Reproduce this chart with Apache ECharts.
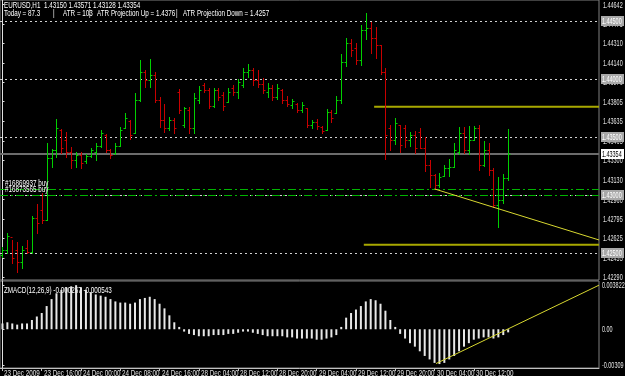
<!DOCTYPE html>
<html><head><meta charset="utf-8">
<script src="https://cdn.jsdelivr.net/npm/echarts@6/dist/echarts.min.js"></script>
<style>html,body{margin:0;padding:0;background:#000;}#c{width:625px;height:376px;}</style>
</head><body><div id="c"></div>
<script>
// ---- data (EURUSD H1) ----
const opens  = [1.42483,1.42526,1.42638,1.42526,1.42423,1.42543,1.42509,1.42802,1.42871,1.42785,1.43319,1.43388,1.43560,1.43474,1.43371,1.43302,1.43345,1.43293,1.43336,1.43371,1.43423,1.43517,1.43388,1.43362,1.43423,1.43578,1.43638,1.43535,1.43819,1.44060,1.43991,1.44035,1.43819,1.43647,1.43578,1.43647,1.43888,1.43604,1.43733,1.43578,1.43819,1.43948,1.43905,1.43767,1.43905,1.43862,1.43802,1.43922,1.43888,1.43948,1.44060,1.44078,1.43991,1.43957,1.43888,1.43922,1.43845,1.43905,1.43819,1.43776,1.43785,1.43733,1.43750,1.43604,1.43629,1.43586,1.43560,1.43716,1.43707,1.43819,1.44147,1.44310,1.44267,1.44164,1.44422,1.44440,1.44353,1.44293,1.44060,1.43578,1.43474,1.43604,1.43578,1.43474,1.43517,1.43543,1.43405,1.43259,1.43173,1.43086,1.43164,1.43233,1.43242,1.43371,1.43535,1.43388,1.43474,1.43578,1.43259,1.43388,1.43216,1.42914,1.42957,1.43150];
const highs  = [1.42552,1.42673,1.42612,1.42595,1.42561,1.42612,1.42819,1.42923,1.43017,1.43448,1.43397,1.43655,1.43569,1.43543,1.43414,1.43371,1.43371,1.43354,1.43405,1.43448,1.43560,1.43526,1.43397,1.43448,1.43586,1.43707,1.43647,1.43879,1.44164,1.44078,1.44172,1.44060,1.43845,1.43785,1.43673,1.43664,1.43914,1.43759,1.43759,1.43879,1.43940,1.43966,1.43922,1.43922,1.43922,1.43888,1.43922,1.43948,1.44000,1.44095,1.44129,1.44095,1.44078,1.44009,1.43966,1.43948,1.43957,1.43914,1.43854,1.43828,1.43793,1.43802,1.43750,1.43647,1.43655,1.43595,1.43741,1.43733,1.43854,1.44216,1.44353,1.44345,1.44310,1.44466,1.44569,1.44491,1.44448,1.44293,1.44095,1.43604,1.43664,1.43604,1.43604,1.43543,1.43552,1.43578,1.43500,1.43302,1.43181,1.43190,1.43259,1.43310,1.43448,1.43586,1.43586,1.43595,1.43595,1.43604,1.43466,1.43448,1.43233,1.43155,1.43181,1.43571];
const lows   = [1.42466,1.42500,1.42414,1.42336,1.42371,1.42500,1.42500,1.42673,1.42759,1.42785,1.43242,1.43328,1.43362,1.43328,1.43233,1.43242,1.43233,1.43276,1.43328,1.43302,1.43414,1.43371,1.43319,1.43354,1.43423,1.43578,1.43483,1.43535,1.43810,1.43931,1.43931,1.43802,1.43586,1.43543,1.43560,1.43535,1.43707,1.43586,1.43535,1.43535,1.43793,1.43888,1.43750,1.43759,1.43819,1.43733,1.43802,1.43862,1.43836,1.43931,1.44017,1.43948,1.43931,1.43879,1.43845,1.43819,1.43828,1.43793,1.43767,1.43750,1.43716,1.43716,1.43586,1.43578,1.43569,1.43535,1.43560,1.43629,1.43707,1.43793,1.44112,1.44198,1.44129,1.44121,1.44345,1.44224,1.44181,1.44043,1.43310,1.43388,1.43440,1.43371,1.43414,1.43423,1.43362,1.43405,1.43207,1.43069,1.43052,1.43069,1.43164,1.43164,1.43242,1.43354,1.43362,1.43354,1.43474,1.43216,1.43250,1.43173,1.42897,1.42724,1.42931,1.43128];
const closes = [1.42526,1.42647,1.42457,1.42423,1.42526,1.42509,1.42802,1.42759,1.42785,1.43319,1.43388,1.43578,1.43405,1.43371,1.43302,1.43345,1.43276,1.43336,1.43388,1.43423,1.43535,1.43388,1.43345,1.43423,1.43560,1.43664,1.43517,1.43819,1.44060,1.43991,1.44035,1.43819,1.43647,1.43578,1.43647,1.43578,1.43733,1.43750,1.43578,1.43836,1.43905,1.43905,1.43767,1.43905,1.43845,1.43767,1.43888,1.43888,1.43974,1.44060,1.44078,1.43991,1.43957,1.43905,1.43922,1.43845,1.43922,1.43819,1.43785,1.43810,1.43733,1.43776,1.43604,1.43629,1.43595,1.43552,1.43716,1.43664,1.43819,1.44147,1.44310,1.44250,1.44164,1.44422,1.44440,1.44353,1.44293,1.44060,1.43517,1.43474,1.43621,1.43431,1.43474,1.43517,1.43405,1.43405,1.43259,1.43173,1.43086,1.43155,1.43233,1.43242,1.43388,1.43535,1.43388,1.43474,1.43578,1.43259,1.43388,1.43216,1.42914,1.42957,1.43150,1.43354];
const macdHist = [0.0005,0.0006,0.0005,0.0004,0.0005,0.0005,0.0008,0.0011,0.0014,0.0020,0.0026,0.0031,0.0034,0.0036,0.0037,0.0038,0.0036,0.0034,0.0032,0.0030,0.0029,0.0028,0.0026,0.0024,0.0023,0.0023,0.0022,0.0023,0.0026,0.0027,0.0028,0.0026,0.0022,0.0018,0.0012,0.0006,0.0002,-0.0002,-0.0004,-0.0005,-0.0006,-0.0006,-0.0006,-0.0005,-0.0005,-0.0005,-0.0004,-0.0004,-0.0003,-0.0002,-0.0002,-0.0003,-0.0004,-0.0005,-0.0006,-0.0006,-0.0006,-0.0006,-0.0007,-0.0007,-0.0008,-0.0008,-0.0008,-0.0008,-0.0009,-0.0009,-0.0008,-0.0007,-0.0005,0.0002,0.0010,0.0014,0.0017,0.0020,0.0024,0.0026,0.0025,0.0022,0.0016,0.0008,0.0002,-0.0004,-0.0008,-0.0012,-0.0015,-0.0019,-0.0023,-0.0026,-0.0029,-0.0030,-0.0029,-0.0026,-0.0023,-0.0019,-0.0015,-0.0012,-0.0009,-0.0008,-0.0007,-0.0007,-0.0008,-0.0007,-0.0005,-0.000267];
const dateTicks = [0,8,16,24,32,40,48,56,64,72,80,88,96];
const dateLabels = ["23 Dec 2009","23 Dec 16:00","24 Dec 00:00","24 Dec 08:00","24 Dec 16:00","28 Dec 04:00","28 Dec 12:00","28 Dec 20:00","29 Dec 04:00","29 Dec 12:00","29 Dec 20:00","30 Dec 04:00","30 Dec 12:00"];
const priceTicks = [1.44642,1.44475,1.44310,1.44140,1.43970,1.43805,1.43635,1.43465,1.43300,1.43130,1.42960,1.42795,1.42625,1.42455,1.42290];
const roundLevels = [1.445,1.440,1.435,1.430,1.425];
const bidPrice = 1.43354;
const orderPrices = [1.43052,1.42997];
const orderLabels = ["#16869937 buy","#16873565 buy"];
const atrUpX = [75.7,121.5], atrUpY = [1.4376,1.4376];
const atrDnX = [73.6,121.5], atrDnY = [1.4257,1.4257];
const trendX = [88,121.5], trendY = [1.43052,1.42612];
const macdTrendX = [88.3,121.5], macdTrendY = [-0.00296,0.0038];
const macdTicks = [0.003822,0,-0.00309];
const macdTickLabels = ["0.003822","0.00","-0.00309"];
const headerLine1 = "EURUSD,H1  1.43150 1.43571 1.43128 1.43354";
const headerParts = ["Today = 87.3","|","ATR = 103","|","ATR Projection Up = 1.4376","|","ATR Projection Down = 1.4257"];
const headerLeft = [4,53,63,89,97,176,183];
const macdTitle = "ZMACD(12,26,9) -0.000267 -0.000543";

const SLOTS = 122;
const FONT = "'Liberation Sans',Arial,sans-serif";
const ohlc = opens.map((o,i)=>[i,o,highs[i],lows[i],closes[i]]);
const zip = (xs,ys)=>xs.map((x,i)=>[x,ys[i]]);

const chart = echarts.init(document.getElementById('c'),null,{renderer:'canvas'});
const sq = (t,l,tp)=>({type:'text',x:l,y:tp,scaleX:0.7,style:{text:t,fill:'#fff',font:"9px "+FONT}});
const txtEl = (t,x,y,fill,va,sx,fs)=>({type:'text',x:x,y:y,scaleX:sx||0.7,style:{text:t,fill:fill,font:(fs||9)+"px "+FONT,align:'left',verticalAlign:va,textAlign:'left',textVerticalAlign:va}});

// right-hand price labels: kind 0 plain, 1 grey box, 2 white box (bid)
const rightLabels = [...priceTicks.map(v=>[0,v]), ...roundLevels.map(v=>[1,v]), [2,bidPrice]];

chart.setOption({
  backgroundColor:'#000',
  animation:false,
  graphic:[
    sq(headerLine1,4,1),
    ...headerParts.map((t,k)=>sq(t,headerLeft[k],9)),
    sq(macdTitle,4,286)
  ],
  grid:[
    {left:0,right:26,top:0,height:280,show:true,borderColor:'#808080',borderWidth:1},
    {left:0,right:26,top:281,height:87,show:true,borderColor:'#808080',borderWidth:1}
  ],
  xAxis:[
    {gridIndex:0,type:'value',min:-0.5,max:SLOTS-0.5,show:false},
    {gridIndex:1,type:'value',min:-0.5,max:SLOTS-0.5,
     axisLine:{show:true,onZero:false,lineStyle:{color:'#c0c0c0'}},
     axisTick:{show:true,customValues:dateTicks,length:3,lineStyle:{color:'#c0c0c0'}},
     axisLabel:{show:false},
     splitLine:{show:false}}
  ],
  yAxis:[
    {gridIndex:0,type:'value',position:'right',min:1.42267,max:1.44681,
     axisLine:{show:true,lineStyle:{color:'#e0e0e0'}},
     axisTick:{show:true,customValues:priceTicks,length:2,lineStyle:{color:'#e0e0e0'}},
     axisLabel:{show:false},splitLine:{show:false}},
    {gridIndex:1,type:'value',position:'right',min:-0.00334,max:0.00416,
     axisLine:{show:true,lineStyle:{color:'#e0e0e0'}},
     axisTick:{show:true,customValues:macdTicks,length:2,lineStyle:{color:'#e0e0e0'}},
     axisLabel:{show:false},splitLine:{show:false}}
  ],
  series:[
    {type:'custom',xAxisIndex:0,yAxisIndex:0,data:ohlc,z:5,
     renderItem:(params,api)=>{
       const i=api.value(0),o=api.value(1),h=api.value(2),l=api.value(3),c=api.value(4);
       const x=Math.round(api.coord([i,o])[0])+0.5;
       const yo=Math.round(api.coord([i,o])[1])+0.5, yh=Math.round(api.coord([i,h])[1]), yl=Math.round(api.coord([i,l])[1])+1;
       const yc=Math.round(api.coord([i,c])[1])+0.5;
       const col = c>=o ? '#00d000' : '#c80000';
       const st={stroke:col,lineWidth:1};
       return {type:'group',children:[
         {type:'line',shape:{x1:x,y1:yh,x2:x,y2:yl},style:st},
         {type:'line',shape:{x1:x-2,y1:yo,x2:x,y2:yo},style:st},
         {type:'line',shape:{x1:x,y1:yc,x2:x+2,y2:yc},style:st}
       ]};
     }},
    {type:'line',xAxisIndex:0,yAxisIndex:0,data:zip(atrUpX,atrUpY),symbol:'none',lineStyle:{color:'#a8a800',width:2},z:4,
     markLine:{silent:true,precision:5,symbol:['none','none'],animation:false,label:{show:false},
       data:[
         ...roundLevels.map(v=>({yAxis:v,lineStyle:{color:'#d0d0d0',type:[2,3],width:1}})),
         {yAxis:bidPrice,lineStyle:{color:'#6c6c6c',type:'solid',width:2}},
         ...orderPrices.map((v,k)=>({yAxis:v,lineStyle:{color:'#00b400',type:[8,3,2,3],width:1}}))
       ]}},
    {type:'line',xAxisIndex:0,yAxisIndex:0,data:zip(atrDnX,atrDnY),symbol:'none',lineStyle:{color:'#a8a800',width:2},z:4},
    {type:'line',xAxisIndex:0,yAxisIndex:0,data:zip(trendX,trendY),symbol:'none',lineStyle:{color:'#d8d830',width:1},z:6},
    // order ticket labels
    {type:'custom',xAxisIndex:0,yAxisIndex:0,data:orderPrices.map((v,k)=>[0,v,k]),z:7,
     renderItem:(params,api)=>{
       const y=api.coord([0,api.value(1)])[1];
       return txtEl(orderLabels[api.value(2)],params.coordSys.x+5,y-1,'#ffffff','bottom');
     }},
    // right-hand price scale labels
    {type:'custom',xAxisIndex:0,yAxisIndex:0,data:rightLabels,z:8,clip:false,
     renderItem:(params,api)=>{
       const kind=api.value(0),v=api.value(1);
       const y=Math.round(api.coord([0,v])[1]);
       const xr=params.coordSys.x+params.coordSys.width;
       const t=v.toFixed(5);
       if(kind===0) return txtEl(t,xr+4,y+0.5,'#e0e0e0','middle',0.64,8.5);
       const bg = kind===1 ? '#a8a8a8' : '#ffffff';
       const fg = kind===1 ? '#ffffff' : '#000000';
       return {type:'group',children:[
         {type:'rect',shape:{x:xr+2,y:y-5,width:23,height:10},style:{fill:bg}},
         txtEl(t,xr+3,y+0.5,fg,'middle',0.64,8.5)
       ]};
     }},
    {type:'bar',xAxisIndex:1,yAxisIndex:1,data:macdHist.map((v,i)=>[i,v]),barWidth:2,itemStyle:{color:'#e8e8e8'},z:3},
    {type:'line',xAxisIndex:1,yAxisIndex:1,data:zip(macdTrendX,macdTrendY),symbol:'none',lineStyle:{color:'#d8d830',width:1},z:6},
    // MACD scale labels
    {type:'custom',xAxisIndex:1,yAxisIndex:1,data:macdTicks.map((v,k)=>[0,v,k]),z:8,clip:false,
     renderItem:(params,api)=>{
       const y=Math.round(api.coord([0,api.value(1)])[1]);
       const xr=params.coordSys.x+params.coordSys.width;
       return txtEl(macdTickLabels[api.value(2)],xr+3,y+0.5,'#e0e0e0','middle',0.64,8.5);
     }},
    // date labels
    {type:'custom',xAxisIndex:1,yAxisIndex:1,data:dateTicks.map((t,k)=>[t,0,k]),z:8,clip:false,
     renderItem:(params,api)=>{
       const x=Math.round(api.coord([api.value(0),0])[0]);
       const yb=params.coordSys.y+params.coordSys.height;
       return txtEl(dateLabels[api.value(2)],x+2,yb+1,'#e0e0e0','top');
     }}
  ]
});
</script></body></html>
